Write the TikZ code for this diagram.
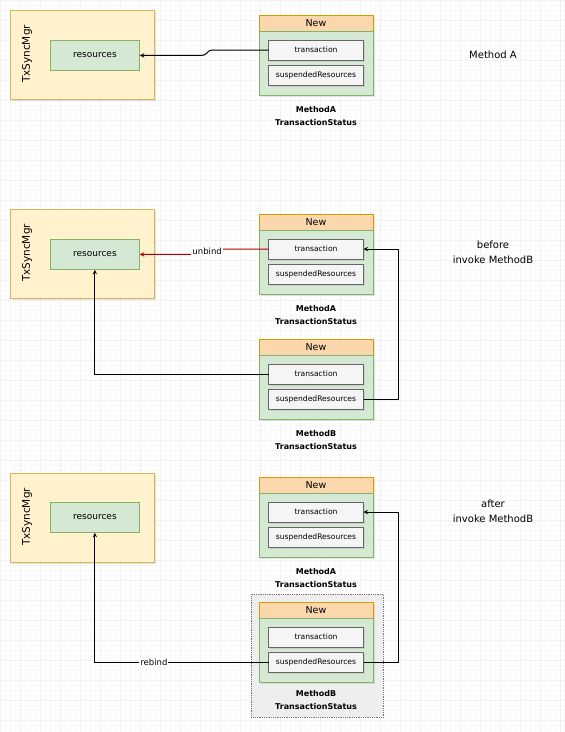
\documentclass[tikz,border=0pt]{standalone}
\usepackage{fontspec}
\setmainfont{DejaVu Sans}
\usetikzlibrary{positioning, arrows, shadows}
\definecolor{mgrfill}{HTML}{FFF2CC}
\definecolor{mgrline}{HTML}{D6B656}
\definecolor{bodyfill}{HTML}{D5E8D4}
\definecolor{bodyline}{HTML}{82B366}
\definecolor{headfill}{HTML}{FAD7AC}
\definecolor{headline}{HTML}{D79B00}
\definecolor{itemfill}{HTML}{F5F5F5}
\definecolor{itemline}{HTML}{666666}
\definecolor{groupfill}{HTML}{EEEEEE}
\definecolor{unbindred}{HTML}{B20000}
\tikzstyle{softshadow} = [drop shadow={shadow xshift=1.5pt, shadow yshift=-1.5pt, opacity=0.2}]
\tikzstyle{mgr} = [rectangle, draw=mgrline, fill=mgrfill, line width=0.8pt, minimum width=144, minimum height=89, anchor=north west, softshadow]
\tikzstyle{mgrlabel} = [rotate=90, font=\fontsize{10.5}{12}\selectfont]
\tikzstyle{res} = [rectangle, draw=bodyline, fill=bodyfill, line width=0.8pt, minimum width=89, minimum height=30, anchor=north west, font=\fontsize{9}{10}\selectfont]
\tikzstyle{head} = [rectangle, draw=headline, fill=headfill, line width=0.8pt, outer sep=0pt, minimum width=114, minimum height=16, anchor=north west, font=\fontsize{9.5}{10}\selectfont, softshadow]
\tikzstyle{body} = [rectangle, draw=bodyline, fill=bodyfill, line width=0.8pt, outer sep=0pt, minimum width=114, minimum height=64, softshadow]
\tikzstyle{item} = [rectangle, draw=itemline, fill=itemfill, line width=0.6pt, outer sep=0pt, minimum width=95, minimum height=20, inner sep=1pt, font=\fontsize{7.6}{9}\selectfont, softshadow]
\tikzstyle{statusname} = [align=center, font=\bfseries\fontsize{8}{12.5}\selectfont]
\tikzstyle{stage} = [align=center, font=\fontsize{10}{15}\selectfont]
\tikzstyle{groupbox} = [rectangle, draw=black!55, fill=groupfill, densely dotted, line width=0.8pt, minimum width=132, minimum height=123, anchor=north west]
\tikzstyle{arrow} = [line width=1pt, ->, >=stealth]
\tikzstyle{edgelabel} = [fill=white, inner sep=1pt, font=\fontsize{8.5}{10}\selectfont]

\begin{document}
\begin{tikzpicture}[x=1pt, y=-1pt]

    \useasboundingbox (0,0) rectangle (565,732);
    \fill [white] (0,0) rectangle (565,732);
    \draw [black!2.5, line width=0.4pt, step=5pt] (0,732) grid (565,0);
    \draw [black!5, line width=0.5pt, step=20pt] (0,732) grid (565,0);

    % Method A
    \node (mgrInit) [mgr] at (10,10) {};
    \node (mgrInitText) [mgrlabel] at (27,54) {TxSyncMgr};
    \node (resInit) [res] at (50,40) {resources};
    \node (newInit) [head] at (259,15) {New};
    \node (bodyInit) [body, below=0pt of newInit] {};
    \node (txInit) [item, below=9pt of newInit] {transaction};
    \node (suspInit) [item, below=5pt of txInit] {suspendedResources};
    \node (nameInit) [statusname, below=8pt of bodyInit] {MethodA\\TransactionStatus};
    \node (stageInit) [stage] at (493,55) {Method A};

    \draw [arrow] (txInit.west) -- ++(-55,0) .. controls +(-8,0) and +(8,0) .. ([xshift=61pt]resInit.east) -- (resInit.east);

    % before invoke MethodB
    \node (mgrBefore) [mgr] at (10,209) {};
    \node (mgrBeforeText) [mgrlabel] at (27,253) {TxSyncMgr};
    \node (resBefore) [res] at (50,239) {resources};
    \node (newABefore) [head] at (259,214) {New};
    \node (bodyABefore) [body, below=0pt of newABefore] {};
    \node (txABefore) [item, below=9pt of newABefore] {transaction};
    \node (suspABefore) [item, below=5pt of txABefore] {suspendedResources};
    \node (nameABefore) [statusname, below=8pt of bodyABefore] {MethodA\\TransactionStatus};
    \node (newBBefore) [head] at (259,339) {New};
    \node (bodyBBefore) [body, below=0pt of newBBefore] {};
    \node (txBBefore) [item, below=9pt of newBBefore] {transaction};
    \node (suspBBefore) [item, below=5pt of txBBefore] {suspendedResources};
    \node (nameBBefore) [statusname, below=8pt of bodyBBefore] {MethodB\\TransactionStatus};
    \node (stageBefore) [stage] at (493,252) {before\\invoke MethodB};

    \draw [arrow, unbindred] (txABefore.west) -- ++(-55,0) .. controls +(-8,0) and +(8,0) .. node [edgelabel, text=black] {unbind} ([xshift=61pt]resBefore.east) -- (resBefore.east);
    \draw [arrow] (txBBefore.west) -| (resBefore.south);
    \draw [arrow] (suspBBefore.east) -- ++(35,0) |- (txABefore.east);

    % after invoke MethodB
    \node (mgrAfter) [mgr] at (10,473) {};
    \node (mgrAfterText) [mgrlabel] at (27,517) {TxSyncMgr};
    \node (resAfter) [res] at (50,502) {resources};
    \node (newAAfter) [head] at (259,477) {New};
    \node (bodyAAfter) [body, below=0pt of newAAfter] {};
    \node (txAAfter) [item, below=9pt of newAAfter] {transaction};
    \node (suspAAfter) [item, below=5pt of txAAfter] {suspendedResources};
    \node (nameAAfter) [statusname, below=8pt of bodyAAfter] {MethodA\\TransactionStatus};
    \node (groupBAfter) [groupbox] at (251,594) {};
    \node (newBAfter) [head] at (259,602) {New};
    \node (bodyBAfter) [body, below=0pt of newBAfter] {};
    \node (txBAfter) [item, below=9pt of newBAfter] {transaction};
    \node (suspBAfter) [item, below=5pt of txBAfter] {suspendedResources};
    \node (nameBAfter) [statusname, below=5pt of bodyBAfter] {MethodB\\TransactionStatus};
    \node (stageAfter) [stage] at (493,511) {after\\invoke MethodB};

    \draw [arrow] (suspBAfter.west) -| node [edgelabel, pos=0.33] {rebind} (resAfter.south);
    \draw [arrow] (suspBAfter.east) -- ++(35,0) |- (txAAfter.east);

\end{tikzpicture}
\end{document}
